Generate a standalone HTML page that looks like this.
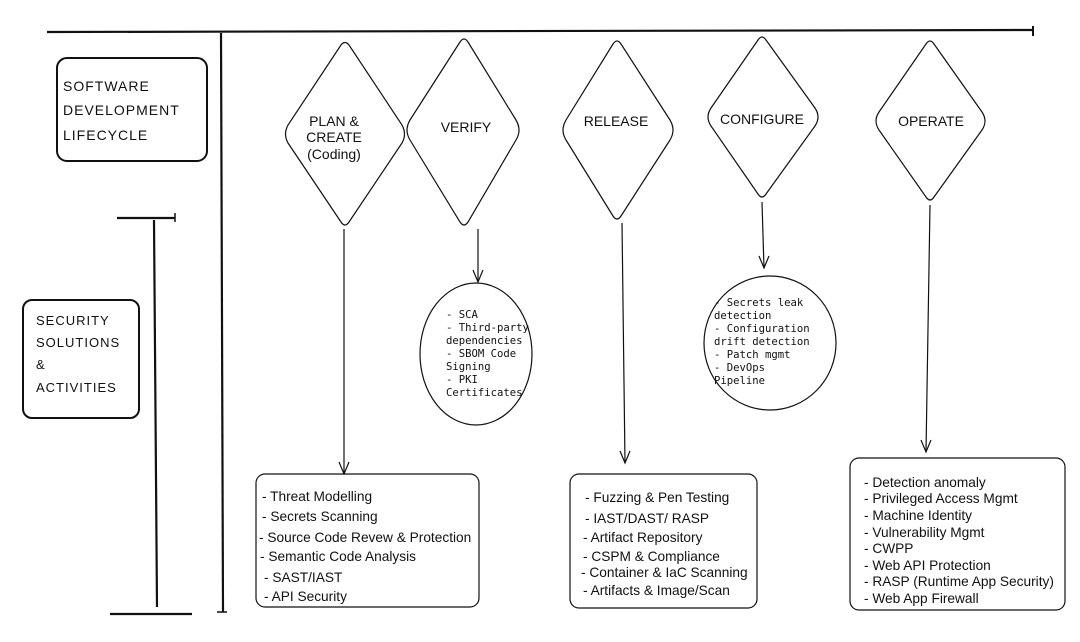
<!DOCTYPE html>
<html><head><meta charset="utf-8"><style>
html,body{margin:0;padding:0;background:#fff;width:1080px;height:642px;overflow:hidden}
svg{display:block}
.s{font-family:"Liberation Sans",sans-serif;font-size:13.7px;fill:#111}
.d{font-family:"Liberation Sans",sans-serif;font-size:14px;fill:#111;text-anchor:middle}
.m{font-family:"DejaVu Sans Mono","Liberation Mono",monospace;font-size:10.6px;fill:#111}
.h{font-family:"Liberation Sans",sans-serif;font-size:14px;fill:#111;letter-spacing:1px}
</style></head><body>
<svg width="1080" height="642" viewBox="0 0 1080 642" xmlns="http://www.w3.org/2000/svg">
<g stroke="#111" fill="none">
<line x1="47" y1="32" x2="1033" y2="30" stroke-width="2.2"/>
<line x1="1033" y1="26" x2="1033" y2="36" stroke-width="2"/>
<line x1="221" y1="33" x2="223" y2="612" stroke-width="2.2"/>
<line x1="217" y1="612" x2="227" y2="612" stroke-width="1.5"/>
<line x1="117" y1="218" x2="175" y2="218" stroke-width="2.2"/>
<line x1="175" y1="213" x2="175" y2="222" stroke-width="1.5"/>
<line x1="154" y1="220" x2="157" y2="607" stroke-width="2.2"/>
<line x1="110" y1="614" x2="192" y2="614" stroke-width="2.2"/>
<rect x="57" y="58" width="150" height="103" rx="10" stroke-width="2"/>
<rect x="23" y="300" width="116" height="118" rx="9" stroke-width="2"/>
<g stroke-width="1.2">
<path d="M341 45 Q345 40 349 45 L402 125 Q407 134 402 143 L349 222 Q345 228 341 222 L288 143 Q283 134 288 125Z"/>
<path d="M460 42 Q464 36 468 42 L516 120 Q522 130 516 140 L468 222 Q464 228 460 222 L410 140 Q404 130 410 120Z"/>
<path d="M613 44 Q617 38 621 44 L670 120 Q676 130 670 140 L621 216 Q617 222 613 216 L566 140 Q560 130 566 120Z"/>
<path d="M758 40 Q762 34 766 40 L815 108 Q821 117 815 126 L766 194 Q762 200 758 194 L711 126 Q705 117 711 108Z"/>
<path d="M926 44 Q930 38 934 44 L982 112 Q988 121 982 130 L934 197 Q930 203 926 197 L879 130 Q873 121 879 112Z"/>
<line x1="344" y1="229" x2="344" y2="474"/><path d="M339 462 L344 474 L349 462"/>
<line x1="478" y1="229" x2="478" y2="282"/><path d="M473 270 L478 282 L483 270"/>
<line x1="622" y1="223" x2="625" y2="463"/><path d="M620 451 L625 463 L630 451"/>
<line x1="762" y1="202" x2="764" y2="268"/><path d="M759 256 L764 268 L769 256"/>
<line x1="930" y1="205" x2="926" y2="452"/><path d="M921 440 L926 452 L931 440"/>
<ellipse cx="476" cy="354" rx="56" ry="71"/>
<ellipse cx="770" cy="343" rx="66" ry="67"/>
<rect x="256" y="474" width="223" height="133" rx="9"/>
<rect x="570" y="474" width="187" height="134" rx="9"/>
<rect x="850" y="458" width="215" height="152" rx="9"/>
</g>
</g>
<text class="h" x="63" y="91">SOFTWARE</text>
<text class="h" x="63" y="115">DEVELOPMENT</text>
<text class="h" x="63" y="140">LIFECYCLE</text>
<text class="h" x="36" y="325" style="font-size:13px">SECURITY</text>
<text class="h" x="36" y="347" style="font-size:13px">SOLUTIONS</text>
<text class="h" x="36" y="369" style="font-size:13px">&amp;</text>
<text class="h" x="36" y="392" style="font-size:13px">ACTIVITIES</text>
<text class="d" x="334" y="126">PLAN &amp;</text>
<text class="d" x="334" y="142">CREATE</text>
<text class="d" x="334" y="159">(Coding)</text>
<text class="d" x="466" y="132">VERIFY</text>
<text class="d" x="616" y="126">RELEASE</text>
<text class="d" x="762" y="124">CONFIGURE</text>
<text class="d" x="931" y="126">OPERATE</text>
<g class="m">
<text x="446" y="318">- SCA</text>
<text x="446" y="331">- Third-party</text>
<text x="446" y="344">dependencies</text>
<text x="446" y="357">- SBOM Code</text>
<text x="446" y="370">Signing</text>
<text x="446" y="383">- PKI</text>
<text x="446" y="396">Certificates</text>
<text x="714" y="306">- Secrets leak</text>
<text x="714" y="319">detection</text>
<text x="714" y="332">- Configuration</text>
<text x="714" y="345">drift detection</text>
<text x="714" y="358">- Patch mgmt</text>
<text x="714" y="371">- DevOps</text>
<text x="714" y="384">Pipeline</text>
</g>
<g class="s">
<text x="262" y="501">- Threat Modelling</text>
<text x="262" y="521">- Secrets Scanning</text>
<text x="259" y="542">- Source Code Revew &amp; Protection</text>
<text x="260" y="561">- Semantic Code Analysis</text>
<text x="264" y="582">- SAST/IAST</text>
<text x="264" y="601">- API Security</text>
<text x="585" y="502">- Fuzzing &amp; Pen Testing</text>
<text x="585" y="523">- IAST/DAST/ RASP</text>
<text x="583" y="542">- Artifact Repository</text>
<text x="583" y="561">- CSPM &amp; Compliance</text>
<text x="581" y="577">- Container &amp; IaC Scanning</text>
<text x="583" y="595">- Artifacts &amp; Image/Scan</text>
<text x="864" y="487">- Detection anomaly</text>
<text x="864" y="503">- Privileged Access Mgmt</text>
<text x="864" y="520">- Machine Identity</text>
<text x="864" y="537">- Vulnerability Mgmt</text>
<text x="864" y="553">- CWPP</text>
<text x="864" y="570">- Web API Protection</text>
<text x="864" y="586">- RASP (Runtime App Security)</text>
<text x="864" y="603">- Web App Firewall</text>
</g>
</svg>
</body></html>
